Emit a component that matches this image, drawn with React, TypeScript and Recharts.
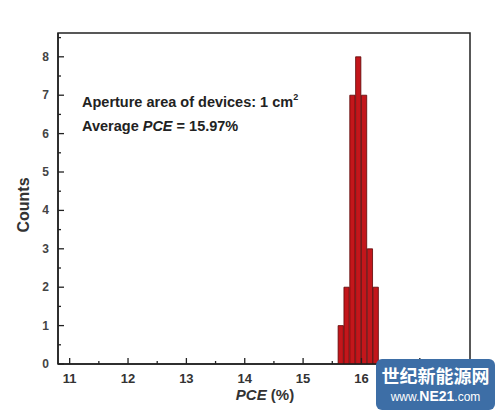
import { ComposedChart, Bar, XAxis, YAxis, ReferenceArea } from 'recharts';

document.body.style.margin = '0';

// histogram bins (PCE %, bin centre) and counts
const binCentres = [15.65, 15.75, 15.85, 15.95, 16.05, 16.15, 16.25];
const counts = [1, 2, 7, 8, 7, 3, 2];
const xTicks = [11, 11.5, 12, 12.5, 13, 13.5, 14, 14.5, 15, 15.5, 16, 16.5, 17, 17.5];
const yTicks = [0, 0.5, 1, 1.5, 2, 2.5, 3, 3.5, 4, 4.5, 5, 5.5, 6, 6.5, 7, 7.5, 8, 8.5];

const X_MIN = 10.8;
const X_MAX = 17.86;
const Y_MAX = 8.62;
const BIN_WIDTH = 0.1;

const W = 500;
const H = 414;
const M = { top: 33, right: 30, left: 0, bottom: 0 };
const Y_AXIS_W = 58;
const X_AXIS_H = 50;
const plotW = W - M.left - M.right - Y_AXIS_W;
const barPx = (BIN_WIDTH * plotW) / (X_MAX - X_MIN);

const data = binCentres.map((pce, i) => ({ pce, count: counts[i] }));

const font = '"Liberation Sans", Arial, sans-serif';

const XTick = (props: any) => {
  const { x, y, payload } = props;
  const major = Number.isInteger(payload.value);
  const axisY = y - 9;
  return (
    <g>
      <line x1={x} x2={x} y1={axisY} y2={axisY - (major ? 6 : 3)} stroke="#222" strokeWidth={1.3} />
      {major && (
        <text x={x} y={y} dy={10} textAnchor="middle" fontSize={13} fontWeight="bold" fill="#333" fontFamily={font}>
          {payload.value}
        </text>
      )}
    </g>
  );
};

const YTick = (props: any) => {
  const { x, y, payload } = props;
  const major = Number.isInteger(payload.value);
  const axisX = x + 9;
  return (
    <g>
      <line x1={axisX} x2={axisX + (major ? 6 : 3)} y1={y} y2={y} stroke="#222" strokeWidth={1.3} />
      {major && (
        <text x={x} y={y} dy={4} textAnchor="end" fontSize={12} fontWeight="bold" fill="#444" fontFamily={font}>
          {payload.value}
        </text>
      )}
    </g>
  );
};

export default function App() {
  return (
    <div style={{ position: 'relative', width: W, height: H, background: '#fff', fontFamily: font, overflow: 'hidden' }}>
      <ComposedChart width={W} height={H} data={data} margin={M} barCategoryGap={0} barGap={0}>
        <XAxis
          dataKey="pce"
          type="number"
          domain={[X_MIN, X_MAX]}
          ticks={xTicks}
          interval={0}
          allowDataOverflow
          height={X_AXIS_H}
          tickSize={0}
          tickMargin={9}
          tickLine={false}
          axisLine={{ stroke: '#222', strokeWidth: 1.5 }}
          tick={<XTick />}
        />
        <YAxis
          type="number"
          domain={[0, Y_MAX]}
          ticks={yTicks}
          interval={0}
          allowDataOverflow
          width={Y_AXIS_W}
          tickSize={0}
          tickMargin={9}
          tickLine={false}
          axisLine={{ stroke: '#222', strokeWidth: 1.5 }}
          tick={<YTick />}
        />
        <Bar
          dataKey="count"
          barSize={barPx}
          fill="#c3161b"
          stroke="#5c0606"
          strokeWidth={0.8}
          isAnimationActive={false}
        />
        <ReferenceArea x1={X_MIN} x2={X_MAX} y1={0} y2={Y_MAX} fill="none" stroke="#222" strokeWidth={1.5} />
      </ComposedChart>

      <div
        style={{
          position: 'absolute', left: 12, top: 205, transform: 'translate(-50%, -50%) rotate(-90deg)',
          transformOrigin: 'center', marginLeft: 12, fontSize: 16, fontWeight: 'bold', color: '#333', whiteSpace: 'nowrap',
        }}
      >
        Counts
      </div>
      <div
        style={{
          position: 'absolute', left: 0, width: 530, top: 386, textAlign: 'center',
          fontSize: 15, fontWeight: 'bold', color: '#333',
        }}
      >
        <i>PCE</i> (%)
      </div>
      <div style={{ position: 'absolute', left: 82, top: 90, fontSize: 14.5, fontWeight: 'bold', color: '#222', lineHeight: '24px' }}>
        <div>
          Aperture area of devices: 1 cm<sup style={{ fontSize: 9, verticalAlign: 'top', lineHeight: '14px' }}>2</sup>
        </div>
        <div>
          Average <i>PCE</i> = 15.97%
        </div>
      </div>
      <div
        style={{
          position: 'absolute', left: 376, top: 359, width: 119, height: 51, borderRadius: 6,
          background: '#3d6ea6', color: '#fff', textAlign: 'center', whiteSpace: 'nowrap',
        }}
      >
        <div style={{ fontSize: 18, fontWeight: 'bold', lineHeight: '24px', marginTop: 4, fontFamily: '"Noto Sans CJK SC", sans-serif' }}>
          世纪新能源网
        </div>
        <div style={{ fontSize: 12, lineHeight: '18px' }}>
          www.<b style={{ fontSize: 14 }}>NE21</b>.com
        </div>
      </div>
    </div>
  );
}
